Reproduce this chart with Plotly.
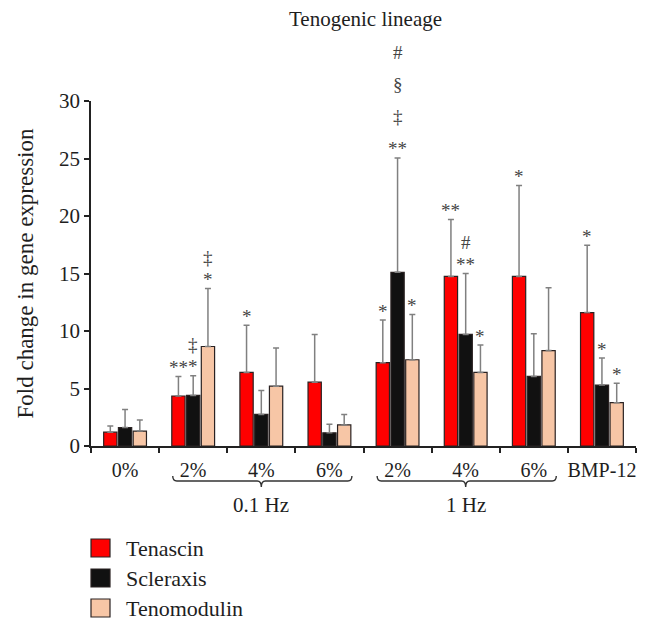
import plotly.graph_objects as go

# ---------------- data ----------------
categories = ["0%", "2%", "4%", "6%", "2%", "4%", "6%", "BMP-12"]
series_names = ["Tenascin", "Scleraxis", "Tenomodulin"]

tenascin = [1.2, 4.35, 6.4, 5.55, 7.25, 14.75, 14.75, 11.6]
tenascin_sd = [0.55, 1.7, 4.1, 4.15, 3.7, 4.95, 7.9, 5.85]
scleraxis = [1.6, 4.4, 2.75, 1.15, 15.1, 9.7, 6.05, 5.3]
scleraxis_sd = [1.57, 1.7, 2.07, 0.75, 9.95, 5.3, 3.72, 2.35]
tenomodulin = [1.3, 8.65, 5.2, 1.83, 7.5, 6.4, 8.3, 3.77]
tenomodulin_sd = [0.96, 5.05, 3.32, 0.9, 3.93, 2.38, 5.47, 1.68]

tenascin_sig = [[], ["**"], ["*"], [], ["*"], ["**"], ["*"], ["*"]]
scleraxis_sig = [[], ["*", "‡"], [], [], ["**", "‡", "§", "#"], ["**", "#"], [], ["*"]]
tenomodulin_sig = [[], ["*", "‡"], [], [], ["*"], ["*"], [], ["*"]]

groups = [("0.1 Hz", 1, 3), ("1 Hz", 4, 6)]
y_ticks = [0, 5, 10, 15, 20, 25, 30]

colors = ["#FF0000", "#111111", "#F7C6A6"]
FONT = "Liberation Serif, DejaVu Serif, serif"
TXT = "#1e1e1e"

# ---------------- figure ----------------
L, R, T, B = 91, 17, 101, 184
W = 653 - L - R
H = 630 - T - B
def px_x(p):
    return (p - L) / W
def px_y(p):
    return (630 - B - p) / H

values = [tenascin, scleraxis, tenomodulin]
sds = [tenascin_sd, scleraxis_sd, tenomodulin_sd]
sigs = [tenascin_sig, scleraxis_sig, tenomodulin_sig]
xs = list(range(len(categories)))

fig = go.Figure()
for name, v, sd, c in zip(series_names, values, sds, colors):
    fig.add_trace(go.Bar(
        x=xs, y=v, name=name, showlegend=False,
        marker=dict(color=c, line=dict(color="#2a2222", width=1.2)),
        error_y=dict(type="data", symmetric=False, array=sd,
                     arrayminus=[0] * len(sd), color="#808080",
                     thickness=1.5, width=3),
    ))

bargap = 0.35
bargroupgap = 0.1
step = (1 - bargap) / 3

annotations = []
for si, (v, sd, sg) in enumerate(zip(values, sds, sigs)):
    for i, marks in enumerate(sg):
        top = v[i] + sd[i]
        spacing = 32 if len(marks) > 2 else 22
        for k, m in enumerate(marks):
            annotations.append(dict(
                x=i + (si - 1) * step, y=top, xref="x", yref="y",
                text=m, showarrow=False, yanchor="middle",
                yshift=9 + k * spacing,
                font=dict(family=FONT, size=19, color="#444444"),
            ))

shapes = []
for label, a, b in groups:
    x0, x1, xc = a - 0.3, b + 0.33, (a + b) / 2
    yl, yt, yn = px_y(481), px_y(476), px_y(487)
    d = 0.06
    path = (f"M {x0},{yt} Q {x0},{yl} {x0 + d},{yl} L {xc - d},{yl} "
            f"Q {xc},{yl} {xc},{yn} Q {xc},{yl} {xc + d},{yl} "
            f"L {x1 - d},{yl} Q {x1},{yl} {x1},{yt}")
    shapes.append(dict(type="path", path=path, xref="x", yref="paper",
                       line=dict(color="#333333", width=1.4)))
    annotations.append(dict(x=xc, y=px_y(505), xref="x", yref="paper",
                            text=label, showarrow=False, yanchor="middle",
                            font=dict(family=FONT, size=21, color=TXT)))

# title
annotations.append(dict(x=px_x(365), y=px_y(19), xref="paper", yref="paper",
                        text="Tenogenic lineage", showarrow=False,
                        yanchor="middle",
                        font=dict(family=FONT, size=21, color=TXT)))

# legend (manual)
for k, (name, c) in enumerate(zip(series_names, colors)):
    yc = 548 + 30 * k
    shapes.append(dict(type="rect", xref="paper", yref="paper",
                       x0=px_x(91), x1=px_x(110), y0=px_y(yc - 9), y1=px_y(yc + 9),
                       fillcolor=c, line=dict(color="#2a2222", width=1.2)))
    annotations.append(dict(x=px_x(124), y=px_y(yc), xref="paper", yref="paper",
                            text=name, showarrow=False, xanchor="left",
                            yanchor="middle",
                            font=dict(family=FONT, size=22, color=TXT)))

fig.update_layout(
    width=653, height=630,
    margin=dict(l=L, r=R, t=T, b=B),
    paper_bgcolor="white", plot_bgcolor="white",
    barmode="group", bargap=bargap, bargroupgap=bargroupgap,
    font=dict(family=FONT, size=20, color=TXT),
    annotations=annotations, shapes=shapes,
    showlegend=False,
)
fig.update_xaxes(
    range=[-0.5, 7.5], tickmode="array", tickvals=xs, ticktext=categories,
    showline=True, linecolor="#222222", linewidth=1.5, showgrid=False,
    zeroline=False, ticks="outside", ticklen=5, tickcolor="rgba(0,0,0,0)",
    tickfont=dict(family=FONT, size=20, color=TXT),
    minor=dict(tickmode="array", tickvals=[x + 0.5 for x in [-1] + xs],
               ticks="outside", ticklen=5, tickcolor="#222222", tickwidth=1.5),
)
fig.update_yaxes(
    range=[0, 30], tickmode="array", tickvals=y_ticks,
    showline=True, linecolor="#222222", linewidth=1.5, showgrid=False,
    zeroline=False, ticks="outside", ticklen=5, tickcolor="#222222", tickwidth=1.5,
    tickfont=dict(family=FONT, size=21, color=TXT),
    title=dict(text="Fold change in gene expression", standoff=19,
               font=dict(family=FONT, size=23, color=TXT)),
)

fig.write_html("out.html", config={"displayModeBar": False},
               post_script="document.body.style.margin='0';")
